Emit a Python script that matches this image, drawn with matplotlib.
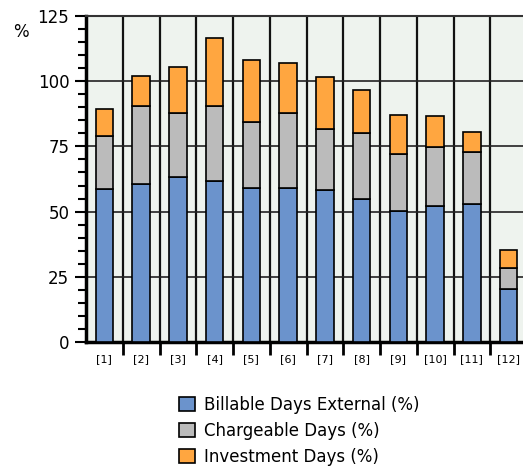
import numpy as np
import matplotlib.pyplot as plt
from matplotlib.patches import Patch

categories = ["[1]", "[2]", "[3]", "[4]", "[5]", "[6]", "[7]", "[8]", "[9]", "[10]", "[11]", "[12]"]
billable = [58.5, 60.6, 63.4, 61.9, 58.9, 58.9, 58.3, 54.8, 50.1, 52.3, 53.0, 20.2]
chargeable_top = [79.0, 90.5, 87.7, 90.5, 84.4, 87.7, 81.7, 80.3, 72.1, 74.9, 72.7, 28.3]
investment_top = [89.3, 102.1, 105.6, 116.4, 108.3, 107.0, 101.5, 96.7, 87.2, 86.5, 80.4, 35.3]
series_names = ["Billable Days External (%)", "Chargeable Days (%)", "Investment Days (%)"]
colors = ["#6b93cc", "#bbbbbb", "#ffa640"]

billable = np.array(billable)
chargeable = np.array(chargeable_top) - billable
investment = np.array(investment_top) - np.array(chargeable_top)

fig = plt.figure(figsize=(5.23, 4.66), dpi=100)
ax = fig.add_axes([86 / 523, 124 / 466, 441 / 523, 326 / 466])
ax.set_facecolor("#eef3ee")

x = np.arange(len(categories))
w = 0.47
ax.bar(x, billable, w, color=colors[0], edgecolor="black", linewidth=1.2, zorder=3)
ax.bar(x, chargeable, w, bottom=billable, color=colors[1], edgecolor="black", linewidth=1.2, zorder=3)
ax.bar(x, investment, w, bottom=np.array(chargeable_top), color=colors[2], edgecolor="black", linewidth=1.2, zorder=3)

ax.set_xlim(-0.5, len(categories) - 0.5)
ax.set_ylim(0, 125)

# x: labels at centers, ticks + grid at category boundaries
ax.set_xticks(x)
ax.set_xticklabels(categories, fontsize=8)
ax.set_xticks(np.arange(len(categories)) + 0.5, minor=True)
ax.tick_params(axis="x", which="major", length=0, pad=9)
ax.tick_params(axis="x", which="minor", length=9, width=2, direction="out")
ax.grid(axis="x", which="minor", color="#111111", linewidth=1.6, zorder=1)

ax.set_yticks(np.arange(0, 126, 25))
ax.set_yticks(np.arange(0, 126, 5), minor=True)
ax.tick_params(axis="y", which="major", length=8, width=1.5, labelsize=12, pad=4)
ax.tick_params(axis="y", which="minor", length=6, width=1.5)
ax.grid(axis="y", which="major", color="#222222", linewidth=1.2, zorder=1)
ax.set_axisbelow(True)

ax.spines["right"].set_visible(False)
ax.spines["left"].set_linewidth(2.5)
ax.spines["bottom"].set_linewidth(2.5)
ax.spines["top"].set_linewidth(1.5)
ax.spines["top"].set_color("#333333")

fig.text(13 / 523, 1 - 32 / 466, "%", fontsize=12, va="center", ha="left")

handles = [Patch(facecolor=c, edgecolor="black", linewidth=1.2) for c in colors]
fig.legend(handles, series_names, loc="upper left", bbox_to_anchor=(172 / 523, 1 - 389 / 466),
           frameon=False, fontsize=12, handlelength=1.0, handleheight=1.0,
           handletextpad=0.5, labelspacing=0.48, borderaxespad=0)

fig.savefig("out.png", dpi=100)
